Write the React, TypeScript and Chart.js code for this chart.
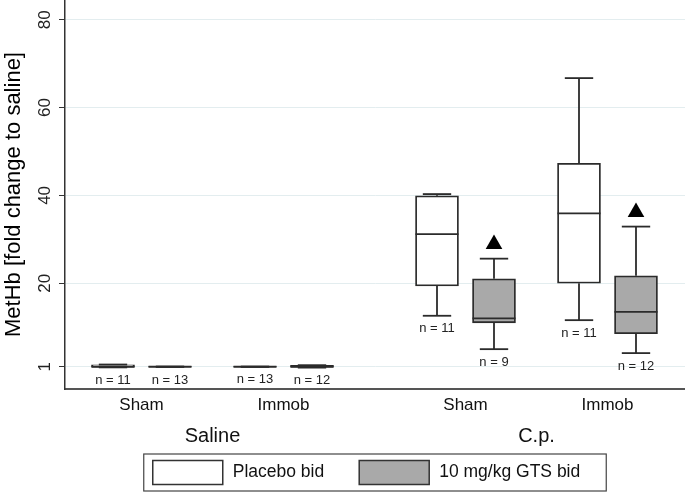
import React, { useEffect, useRef } from "react";
import { Chart, registerables } from "chart.js";

Chart.register(...registerables);

// ---------------- data ----------------
const groupLabels = ["Sham", "Immob", "Sham", "Immob"];
const drugLabels = ["Saline", "C.p."];
const seriesNames = ["Placebo bid", "10 mg/kg GTS bid"];

const placeboMin = [0.85, 0.96, 12.6, 11.6];
const placeboQ1 = [0.92, 0.98, 19.4, 20.0];
const placeboMed = [1.0, 1.0, 31.2, 35.9];
const placeboQ3 = [1.45, 1.02, 39.9, 47.3];
const placeboMax = [1.5, 1.04, 40.3, 66.7];
const placeboN = [11, 13, 11, 11];

const gtsMin = [0.95, 0.8, 5.0, 4.1];
const gtsQ1 = [0.98, 0.88, 11.0, 8.5];
const gtsMed = [1.0, 1.0, 12.0, 13.5];
const gtsQ3 = [1.02, 1.3, 21.0, 21.7];
const gtsMax = [1.05, 1.35, 25.6, 32.9];
const gtsN = [13, 12, 9, 12];

const gtsSignificance: (number | null)[] = [null, null, 28.9, 36.2];

const yTicks = [1, 20, 40, 60, 80];
const yTitle = "MetHb [fold change to saline]";

// ---------------- styling / layout ----------------
const FONT = "'Liberation Sans', Arial, Helvetica, sans-serif";
const LINE = "#2b2b2b";
const GRAY = "#a9a9a9";
const X_MAX = 620;
const FIRST = 48;
const BOX_STEP = 57;
const GROUP_STEP = 142;
const DRUG_STEP = 324;

function boxPos(g: number, s: number) {
  const k = Math.floor(g / 2);
  const j = g % 2;
  return FIRST + DRUG_STEP * k + GROUP_STEP * j + BOX_STEP * s;
}
const groupCenters = groupLabels.map((_, g) => boxPos(g, 0) + BOX_STEP / 2);
const drugCenters = drugLabels.map((_, k) => (groupCenters[2 * k] + groupCenters[2 * k + 1]) / 2);

const stats = [
  { min: placeboMin, q1: placeboQ1, med: placeboMed, q3: placeboQ3, max: placeboMax, n: placeboN },
  { min: gtsMin, q1: gtsQ1, med: gtsMed, q3: gtsQ3, max: gtsMax, n: gtsN },
];

const boxPlugin = {
  id: "boxExtras",
  afterDatasetsDraw(chart: any) {
    const ctx = chart.ctx as CanvasRenderingContext2D;
    const y = chart.scales.y;
    const py = (v: number) => y.getPixelForValue(v);
    stats.forEach((st, s) => {
      const meta = chart.getDatasetMeta(s);
      meta.data.forEach((bar: any, i: number) => {
        const { x, width } = bar.getProps(["x", "width"], true);
        const hw = width / 2;
        const cw = width * 0.33;
        ctx.save();
        ctx.strokeStyle = LINE;
        ctx.lineWidth = 1.8;
        const line = (x1: number, y1: number, x2: number, y2: number) => {
          ctx.beginPath();
          ctx.moveTo(x1, y1);
          ctx.lineTo(x2, y2);
          ctx.stroke();
        };
        line(x, py(st.q3[i]), x, py(st.max[i]));
        line(x - cw, py(st.max[i]), x + cw, py(st.max[i]));
        line(x, py(st.q1[i]), x, py(st.min[i]));
        line(x - cw, py(st.min[i]), x + cw, py(st.min[i]));
        line(x - hw, py(st.med[i]), x + hw, py(st.med[i]));
        ctx.fillStyle = "#222";
        ctx.font = `13px ${FONT}`;
        ctx.textAlign = "center";
        ctx.textBaseline = "middle";
        ctx.fillText(`n = ${st.n[i]}`, x, py(st.min[i]) + 13);
        ctx.restore();
      });
    });
  },
};

const legendPlugin = {
  id: "boxLegend",
  afterDraw(chart: any) {
    const ctx = chart.ctx as CanvasRenderingContext2D;
    const area = chart.chartArea;
    ctx.save();
    ctx.font = `17.5px ${FONT}`;
    const w1 = ctx.measureText(seriesNames[0]).width;
    const w2 = ctx.measureText(seriesNames[1]).width;
    const sw = 70, sh = 24, gapT = 10, gapI = 35, padL = 9, padR = 26;
    const total = padL + sw + gapT + w1 + gapI + sw + gapT + w2 + padR;
    const cx = (area.left + area.right) / 2;
    const left = cx - total / 2;
    const top = chart.height - 40;
    const h = 37;
    ctx.strokeStyle = "#444";
    ctx.lineWidth = 1.2;
    ctx.fillStyle = "#fff";
    ctx.fillRect(left, top, total, h);
    ctx.strokeRect(left, top, total, h);
    const midY = top + h / 2;
    let x = left + padL;
    const fills = ["#ffffff", GRAY];
    [w1, w2].forEach((w, k) => {
      ctx.fillStyle = fills[k];
      ctx.fillRect(x, midY - sh / 2, sw, sh);
      ctx.strokeStyle = "#333";
      ctx.lineWidth = 1.5;
      ctx.strokeRect(x, midY - sh / 2, sw, sh);
      x += sw + gapT;
      ctx.fillStyle = "#111";
      ctx.textAlign = "left";
      ctx.textBaseline = "middle";
      ctx.fillText(seriesNames[k], x, midY);
      x += w + gapI;
    });
    ctx.restore();
  },
};

export default function App() {
  const ref = useRef<HTMLCanvasElement>(null);
  useEffect(() => {
    const chart = new Chart(ref.current as HTMLCanvasElement, {
      type: "bar",
      data: {
        datasets: [
          {
            type: "bar",
            label: seriesNames[0],
            data: placeboQ1.map((q1, i) => ({ x: boxPos(i, 0), y: [q1, placeboQ3[i]] })) as any,
            backgroundColor: "#ffffff",
            borderColor: LINE,
            borderWidth: 1.8,
            borderSkipped: false,
            barThickness: 43,
            grouped: false,
            xAxisID: "x",
            yAxisID: "y",
          } as any,
          {
            type: "bar",
            label: seriesNames[1],
            data: gtsQ1.map((q1, i) => ({ x: boxPos(i, 1), y: [q1, gtsQ3[i]] })) as any,
            backgroundColor: GRAY,
            borderColor: LINE,
            borderWidth: 1.8,
            borderSkipped: false,
            barThickness: 43,
            grouped: false,
            xAxisID: "x",
            yAxisID: "y",
          } as any,
          {
            type: "scatter",
            label: "significance",
            data: gtsSignificance
              .map((v, i) => (v === null ? null : { x: boxPos(i, 1), y: v }))
              .filter((p) => p !== null) as any,
            pointStyle: "triangle",
            pointRadius: 9.6,
            backgroundColor: "#000",
            borderColor: "#000",
            borderWidth: 0,
            xAxisID: "x",
            yAxisID: "y",
          } as any,
        ],
      },
      options: {
        animation: false,
        responsive: false,
        devicePixelRatio: 1,
        layout: { autoPadding: false, padding: { left: 0, right: 0, top: 0, bottom: 46 } },
        plugins: { legend: { display: false }, tooltip: { enabled: false } },
        events: [],
        scales: {
          x: {
            type: "linear",
            position: "bottom",
            weight: 0,
            min: 0,
            max: X_MAX,
            offset: false,
            grid: { display: false, drawTicks: false },
            border: { display: true, color: "#555", width: 2 },
            afterBuildTicks: (s: any) => {
              s.ticks = groupCenters.map((v) => ({ value: v }));
            },
            afterFit: (s: any) => {
              s.height = 26;
              s.paddingLeft = 0;
              s.paddingRight = 0;
            },
            ticks: {
              autoSkip: false,
              maxRotation: 0,
              minRotation: 0,
              padding: 6,
              color: "#111",
              font: { size: 17, family: FONT },
              callback: (_v: any, i: number) => groupLabels[i],
            },
          },
          x2: {
            type: "linear",
            position: "bottom",
            weight: 1,
            min: 0,
            max: X_MAX,
            offset: false,
            grid: { display: false, drawTicks: false },
            border: { display: false },
            afterBuildTicks: (s: any) => {
              s.ticks = drugCenters.map((v) => ({ value: v }));
            },
            afterFit: (s: any) => {
              s.height = 33;
              s.paddingLeft = 0;
              s.paddingRight = 0;
            },
            ticks: {
              autoSkip: false,
              maxRotation: 0,
              minRotation: 0,
              padding: 9,
              color: "#111",
              font: { size: 20, family: FONT },
              callback: (_v: any, i: number) => drugLabels[i],
            },
          },
          y: {
            type: "linear",
            position: "left",
            min: -4.07,
            max: 84.48,
            grid: { color: "#e3edef", lineWidth: 1, tickLength: 6, tickColor: "#333", drawTicks: true },
            border: { display: true, color: "#333", width: 1.5 },
            afterBuildTicks: (s: any) => {
              s.ticks = yTicks.map((v) => ({ value: v }));
            },
            afterFit: (s: any) => {
              s.width = 65;
              s.paddingTop = 0;
              s.paddingBottom = 0;
            },
            title: {
              display: true,
              text: yTitle,
              color: "#000",
              font: { size: 22, family: FONT },
              padding: { top: 1, bottom: 0 },
            },
            ticks: {
              minRotation: 90,
              maxRotation: 90,
              crossAlign: "center",
              padding: 4,
              color: "#222",
              font: { size: 17, family: FONT },
              callback: (v: any) => String(v),
            },
          },
        } as any,
      },
      plugins: [boxPlugin, legendPlugin],
    } as any);
    return () => chart.destroy();
  }, []);
  return (
    <div style={{ position: "fixed", left: 0, top: 0, width: 685, height: 494, background: "#fff" }}>
      <canvas ref={ref} width={685} height={494} style={{ display: "block" }} />
    </div>
  );
}
